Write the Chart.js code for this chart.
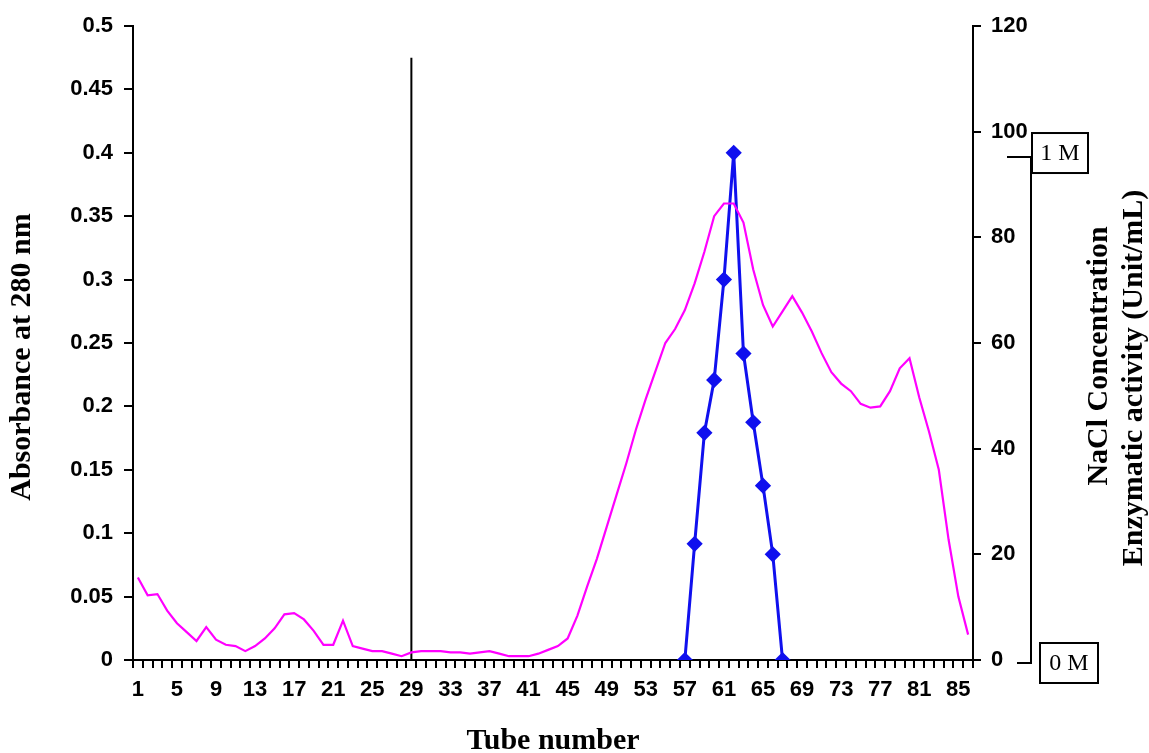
<!DOCTYPE html>
<html>
<head>
<meta charset="utf-8">
<script src="https://cdn.jsdelivr.net/npm/chart.js@4.4.1/dist/chart.umd.min.js"></script>
<style>
  html, body { margin: 0; padding: 0; background: #fff; }
  #box { width: 1149px; height: 753px; }
</style>
</head>
<body>
<div id="box"><canvas id="Grafica" width="1149" height="753"></canvas></div>
<script>
// tube numbers 1..86
const tubes = [];
for (let t = 1; t <= 86; t++) { tubes.push(String(t)); }

// absorbance at 280 nm (left axis), one per tube
const absorbance = [
  0.065, 0.051, 0.052, 0.039, 0.029, 0.022, 0.015, 0.026, 0.016, 0.012,
  0.011, 0.007, 0.011, 0.017, 0.025, 0.036, 0.037, 0.032, 0.023, 0.012,
  0.012, 0.031, 0.011, 0.009, 0.007, 0.007, 0.005, 0.003, 0.006, 0.007,
  0.007, 0.007, 0.006, 0.006, 0.005, 0.006, 0.007, 0.005, 0.003, 0.003,
  0.003, 0.005, 0.008, 0.011, 0.017, 0.035, 0.058, 0.080, 0.105, 0.130,
  0.155, 0.182, 0.206, 0.228, 0.250, 0.261, 0.276, 0.297, 0.322, 0.350,
  0.360, 0.360, 0.345, 0.308, 0.280, 0.263, 0.275, 0.287, 0.274, 0.259,
  0.242, 0.227, 0.218, 0.212, 0.202, 0.199, 0.200, 0.212, 0.230, 0.238,
  0.207, 0.180, 0.150, 0.095, 0.050, 0.020
];

// enzymatic activity (Unit/mL, right axis), only measured tubes
const activityTubes = ['57', '58', '59', '60', '61', '62', '63', '64', '65', '66', '67'];
const activityValues = [0, 22, 43, 53, 72, 96, 58, 45, 33, 20, 0];

// start of the NaCl gradient
const gradientTube = '29';
const gradientLine = [0, 0.475];

const leftTicks = ['0', '0.05', '0.1', '0.15', '0.2', '0.25', '0.3', '0.35', '0.4', '0.45', '0.5'];
const rightTicks = ['0', '20', '40', '60', '80', '100', '120'];

function activityData() {
  let map = {};
  activityTubes.forEach((t, i) => { map[t] = activityValues[i]; });
  return tubes.map(t => (t in map ? map[t] : null));
}

const tickFont = { family: 'Liberation Sans, Arial, sans-serif', size: 22, weight: 'bold' };
const titleFont = { family: 'Liberation Serif, Times New Roman, serif', size: 30, weight: 'bold' };

function vText(ctx, text, x, y) {
  ctx.save();
  ctx.fillStyle = '#000';
  ctx.font = 'bold 30px "Liberation Serif", serif';
  ctx.textAlign = 'center';
  ctx.textBaseline = 'middle';
  ctx.translate(x, y);
  ctx.rotate(-Math.PI / 2);
  ctx.fillText(text, 0, 0);
  ctx.restore();
}

const extras = {
  id: 'extras',
  afterDraw(chart) {
    const ctx = chart.ctx;
    const area = chart.chartArea;
    const yr = chart.scales.y1;
    // axis titles drawn reading bottom to top
    vText(ctx, 'Absorbance at 280 nm', 22, 357);
    vText(ctx, 'NaCl Concentration', 1099, 356);
    vText(ctx, 'Enzymatic activity (Unit/mL)', 1134, 378);

    // NaCl gradient bracket with 1 M / 0 M boxes
    const yTop = yr.getPixelForValue(95.2);
    const yBot = area.bottom + 3;
    const xv = area.right + 58;
    ctx.save();
    ctx.strokeStyle = '#000';
    ctx.lineWidth = 2;
    ctx.beginPath();
    ctx.moveTo(area.right + 34, yTop);
    ctx.lineTo(xv, yTop);
    ctx.lineTo(xv, yBot);
    ctx.lineTo(area.right + 44, yBot);
    ctx.stroke();

    ctx.font = '24px "Liberation Serif", serif';
    ctx.textAlign = 'center';
    ctx.textBaseline = 'middle';
    // 1 M box
    ctx.fillStyle = '#fff';
    ctx.fillRect(xv + 1, yTop - 24, 56, 40);
    ctx.strokeRect(xv + 1, yTop - 24, 56, 40);
    ctx.fillStyle = '#000';
    ctx.fillText('1 M', xv + 29, yTop - 3);
    // 0 M box
    ctx.fillStyle = '#fff';
    ctx.fillRect(xv + 9, yBot - 20, 58, 40);
    ctx.strokeRect(xv + 9, yBot - 20, 58, 40);
    ctx.fillStyle = '#000';
    ctx.fillText('0 M', xv + 38, yBot + 1);
    ctx.restore();
  }
};

const config = {
  type: 'line',
  data: {
    labels: tubes,
    datasets: [
      {
        label: 'Absorbance',
        data: absorbance,
        yAxisID: 'y',
        borderColor: '#ff00ff',
        borderWidth: 2.2,
        pointRadius: 0,
        tension: 0
      },
      {
        label: 'Enzymatic activity',
        data: activityData(),
        yAxisID: 'y1',
        borderColor: '#1010ee',
        backgroundColor: '#1010ee',
        borderWidth: 3,
        pointStyle: 'rectRot',
        pointRadius: 6,
        pointHoverRadius: 6,
        spanGaps: false,
        tension: 0
      },
      {
        label: 'Gradient start',
        data: gradientLine.map(v => ({ x: gradientTube, y: v })),
        yAxisID: 'y',
        borderColor: '#000',
        borderWidth: 2,
        pointRadius: 0
      }
    ]
  },
  options: {
    responsive: false,
    animation: false,
    layout: { padding: { top: 26, left: 0, right: 0, bottom: 0 } },
    plugins: { legend: { display: false }, tooltip: { enabled: false } },
    scales: {
      x: {
        type: 'category',
        offset: true,
        grid: { display: true, drawOnChartArea: false, offset: true, tickLength: 8, color: '#000', lineWidth: 2 },
        border: { display: true, color: '#000', width: 2 },
        ticks: {
          autoSkip: false, maxRotation: 0, minRotation: 0, padding: 9,
          color: '#000', font: tickFont,
          callback: (v, i) => (i % 4 === 0 ? tubes[i] : '')
        },
        title: { display: true, text: 'Tube number', color: '#000', font: Object.assign({ lineHeight: 0.8 }, titleFont), padding: 0 },
        afterFit: s => { s.height = 93; }
      },
      y: {
        position: 'left',
        min: 0, max: 0.5,
        grid: { display: true, drawOnChartArea: false, tickLength: 9, color: '#000', lineWidth: 2 },
        border: { display: true, color: '#000', width: 2 },
        ticks: {
          stepSize: 0.05, padding: 11, color: '#000', font: tickFont,
          callback: (v, i) => leftTicks[i]
        },
        afterFit: s => { s.width = 133; }
      },
      y1: {
        position: 'right',
        min: 0, max: 120,
        grid: { display: true, drawOnChartArea: false, tickLength: 8, color: '#000', lineWidth: 2 },
        border: { display: true, color: '#000', width: 2 },
        ticks: {
          stepSize: 20, padding: 10, color: '#000', font: tickFont,
          callback: (v, i) => rightTicks[i]
        },
        afterFit: s => { s.width = 176; }
      }
    }
  },
  plugins: [extras]
};

new Chart(document.getElementById('Grafica').getContext('2d'), config);
</script>
</body>
</html>
